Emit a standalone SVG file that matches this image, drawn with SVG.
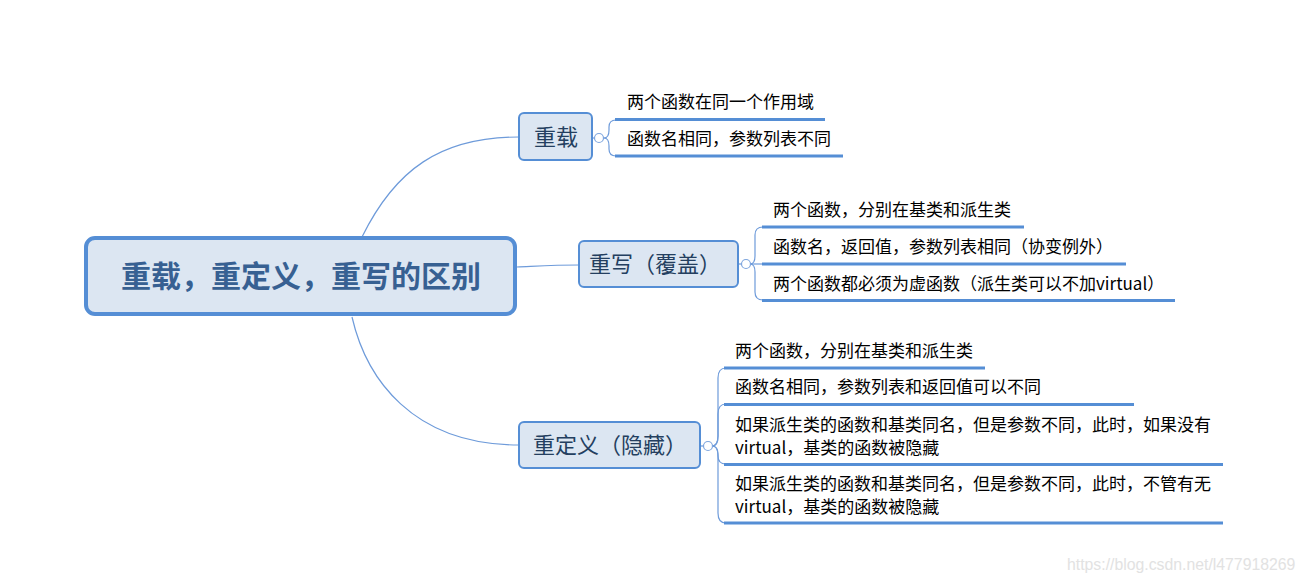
<svg xmlns="http://www.w3.org/2000/svg" width="1304" height="581" viewBox="0 0 1304 581">
<style>
.bg{fill:#ffffff}
.main{fill:#DCE6F2;stroke:#558ED5;stroke-width:4}
.sub{fill:#DCE6F2;stroke:#558ED5;stroke-width:2}
.title{font-family:"Noto Sans CJK SC","Microsoft YaHei",sans-serif;font-size:30px;font-weight:bold;fill:#376092;text-anchor:middle}
.stext{font-family:"Noto Sans CJK SC","Microsoft YaHei",sans-serif;font-size:22px;fill:#243F60;text-anchor:middle}
.item{font-family:"Noto Sans CJK SC","Microsoft YaHei",sans-serif;font-size:17px;fill:#000000}
.thin{fill:none;stroke:#6E9BDA;stroke-width:1.2}
.under{stroke:#558ED5;stroke-width:3;fill:none}
.fold{fill:#ffffff;stroke:#7FA6DE;stroke-width:1.2}
.wm{font-family:"Liberation Sans",Arial,sans-serif;font-size:15.8px;fill:#e2e2e2}
</style>
<rect class="bg" x="0" y="0" width="1304" height="581"/>
<g id="connectors">
<path class="thin" d="M362,237 C395,170 440,137 519,137"/>
<path class="thin" d="M517,267 C540,266 555,265 579,265"/>
<path class="thin" d="M352,317 C366,378 412,445 519,445"/>
<path class="thin" d="M592,138 L595,138"/>
<path class="thin" d="M604,138 Q609,138 609,130 L609,127 Q609,120 616,120"/>
<path class="thin" d="M604,138 Q609,138 609,146 L609,149 Q609,156 616,156"/>
<path class="thin" d="M738,264 L742,264"/>
<path class="thin" d="M750,264 Q755,264 755,256 L755,235 Q755,227 763,227"/>
<path class="thin" d="M750,264 L763,264"/>
<path class="thin" d="M750,264 Q755,264 755,272 L755,292 Q755,300 763,300"/>
<path class="thin" d="M700,446 L704,446"/>
<path class="thin" d="M712,446 Q718,446 718,436 L718,378 Q718,368 726,368"/>
<path class="thin" d="M712,446 Q718,446 718,436 L718,414 Q718,404 726,404"/>
<path class="thin" d="M712,446 Q718,446 718,454 L718,456 Q718,464 726,464"/>
<path class="thin" d="M712,446 Q718,446 718,456 L718,513 Q718,523 726,523"/>
<circle class="fold" cx="599" cy="138" r="4.5"/>
<circle class="fold" cx="746" cy="264" r="4.5"/>
<circle class="fold" cx="708" cy="446" r="4.5"/>
</g>
<g id="root">
<rect class="main" x="86" y="238" width="429" height="76" rx="9"/>
<text class="title" x="301" y="287">重载，重定义，重写的区别</text>
</g>
<g id="overload">
<rect class="sub" x="519" y="113" width="73" height="47" rx="5"/>
<text class="stext" x="556" y="145">重载</text>
</g>
<g id="overload-1">
<text class="item" x="627" y="108">两个函数在同一个作用域</text>
<line class="under" x1="615" y1="119.5" x2="825" y2="119.5"/>
</g>
<g id="overload-2">
<text class="item" x="627" y="145">函数名相同，参数列表不同</text>
<line class="under" x1="615" y1="156" x2="843" y2="156"/>
</g>
<g id="override">
<rect class="sub" x="579" y="241" width="159" height="46" rx="5"/>
<text class="stext" x="655" y="272">重写（覆盖）</text>
</g>
<g id="override-1">
<text class="item" x="773" y="216">两个函数，分别在基类和派生类</text>
<line class="under" x1="762" y1="227" x2="1024" y2="227"/>
</g>
<g id="override-2">
<text class="item" x="773" y="253">函数名，返回值，参数列表相同（协变例外）</text>
<line class="under" x1="762" y1="264" x2="1126" y2="264"/>
</g>
<g id="override-3">
<text class="item" x="773" y="290">两个函数都必须为虚函数（派生类可以不加virtual）</text>
<line class="under" x1="762" y1="300.5" x2="1175" y2="300.5"/>
</g>
<g id="redefine">
<rect class="sub" x="519" y="422" width="181" height="46" rx="5"/>
<text class="stext" x="610" y="453">重定义（隐藏）</text>
</g>
<g id="redefine-1">
<text class="item" x="735" y="357">两个函数，分别在基类和派生类</text>
<line class="under" x1="724" y1="368" x2="985" y2="368"/>
</g>
<g id="redefine-2">
<text class="item" x="735" y="393">函数名相同，参数列表和返回值可以不同</text>
<line class="under" x1="724" y1="404.5" x2="1134" y2="404.5"/>
</g>
<g id="redefine-3">
<text class="item" x="735" y="431">如果派生类的函数和基类同名，但是参数不同，此时，如果没有</text>
<text class="item" x="735" y="454">virtual，基类的函数被隐藏</text>
<line class="under" x1="724" y1="464.5" x2="1223" y2="464.5"/>
</g>
<g id="redefine-4">
<text class="item" x="735" y="490">如果派生类的函数和基类同名，但是参数不同，此时，不管有无</text>
<text class="item" x="735" y="513">virtual，基类的函数被隐藏</text>
<line class="under" x1="724" y1="523" x2="1223" y2="523"/>
</g>
<text class="wm" x="1067" y="570">https://blog.csdn.net/l477918269</text>
</svg>
